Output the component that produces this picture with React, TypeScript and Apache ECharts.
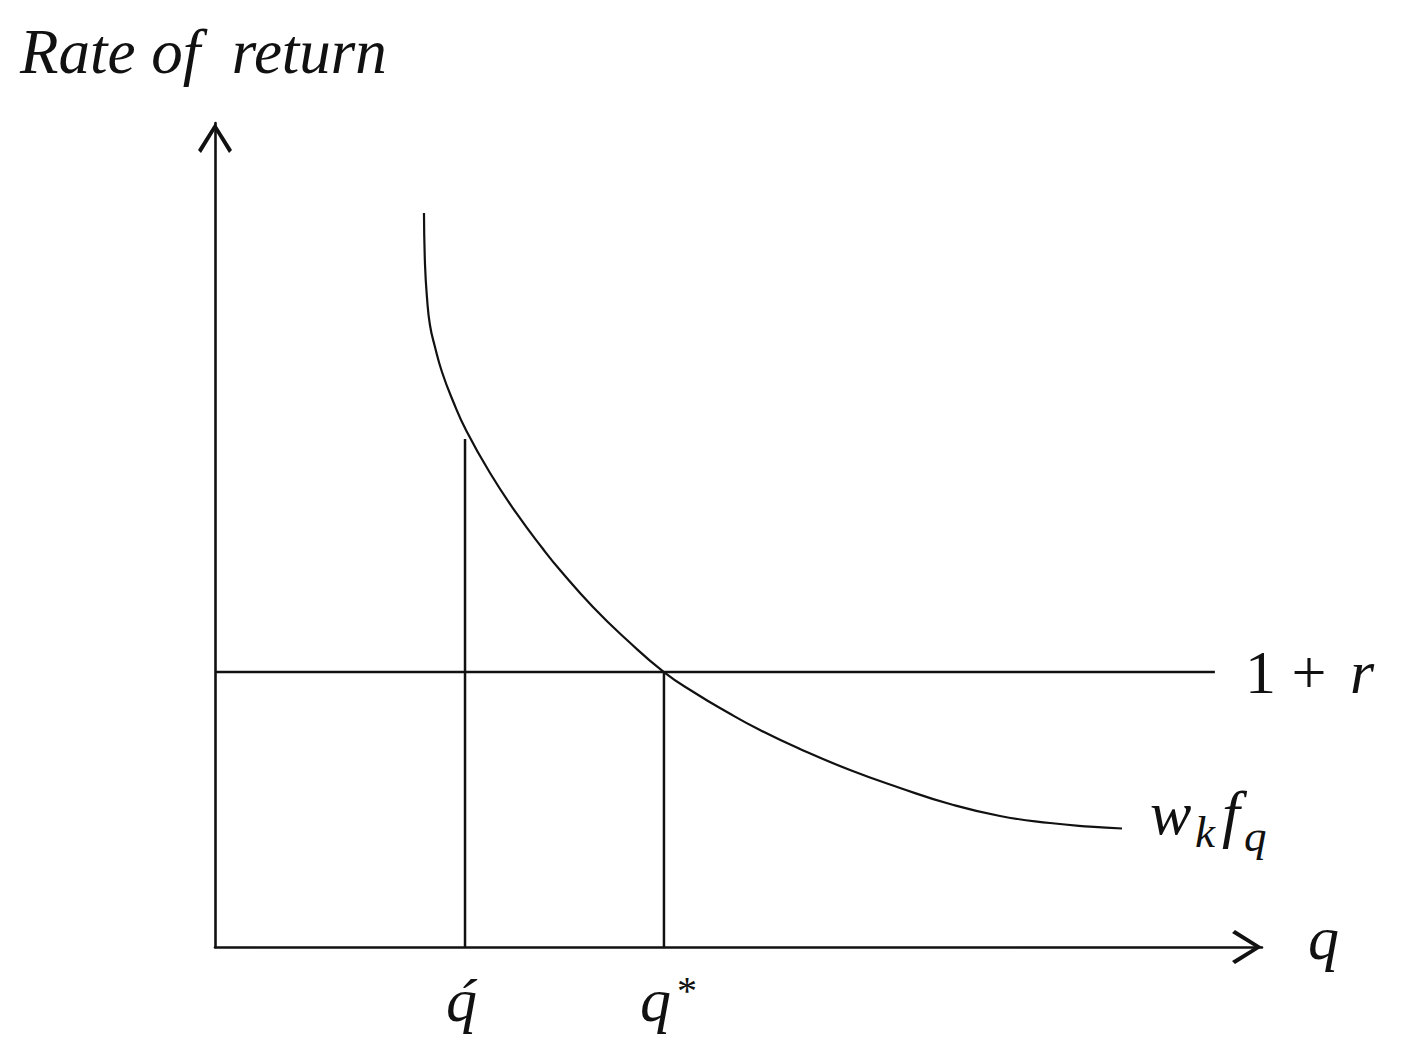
import React, { useEffect, useRef } from "react";
import * as echarts from "echarts";

// Curve w_k f_q (quantity q, rate of return)
const curveQ = [19.96, 20.06, 20.25, 20.53, 21.01, 21.68, 22.73, 23.97, 26.27, 28.84, 31.33, 32.95, 36.1, 39.35, 42.88, 45.85, 48.9, 52.05, 55.87, 60.65, 65.43, 70.2, 74.98, 79.75, 83.57, 86.63];
const curveRate = [89.08, 82.77, 78.76, 75.49, 72.82, 69.78, 66.26, 62.74, 57.52, 52.55, 48.3, 45.75, 41.26, 37.26, 33.37, 30.83, 28.52, 26.33, 24.03, 21.48, 19.3, 17.35, 15.9, 15.05, 14.61, 14.38];

// Horizontal line 1 + r
const rateLevel = 33.37;
const rateLineQ = [0, 95.5];

// Vertical markers
const qHat = 23.88;
const qHatTop = 61.65;
const qStar = 42.88;

// Labels
const yTitle = "Rate of  return";
const xTitle = "q";

const FONT = '"Liberation Serif", "DejaVu Serif", serif';
const CHEVRON = "path://M17,0 L34,27 L31,30 L17,7 L3,30 L0,27 Z";

export default function App() {
  const ref = useRef<HTMLDivElement>(null);
  useEffect(() => {
    if (!ref.current) return;
    const chart = echarts.init(ref.current, null, { renderer: "svg" });
    const black = "#111";
    const axisCommon = {
      type: "value" as const,
      min: 0,
      max: 100,
      splitLine: { show: false },
      axisTick: { show: false },
      axisLabel: { show: false },
      axisLine: {
        show: true,
        symbol: ["none", CHEVRON],
        symbolSize: [34, 30],
        symbolOffset: [0, -15],
        lineStyle: { color: black, width: 2.6 },
      },
    };
    const lineStyle = { color: black, width: 2.5 };
    const txt = (text: string, x: number, y: number, size: number, italic = true, align = "left") => ({
      type: "text",
      x,
      y,
      style: {
        text,
        fill: black,
        fontSize: size,
        fontFamily: FONT,
        fontStyle: italic ? "italic" : "normal",
        align,
        verticalAlign: "middle",
      },
    });
    chart.setOption({
      animation: false,
      backgroundColor: "#fff",
      grid: { left: 215, right: 148, top: 123, bottom: 115 },
      xAxis: axisCommon,
      yAxis: axisCommon,
      series: [
        {
          type: "line",
          data: curveQ.map((q, i) => [q, curveRate[i]]),
          smooth: 0.5,
          showSymbol: false,
          lineStyle: { color: black, width: 2.2 },
        },
        {
          type: "line",
          data: rateLineQ.map((q) => [q, rateLevel]),
          showSymbol: false,
          lineStyle,
        },
        {
          type: "line",
          data: [[qHat, 0], [qHat, qHatTop]],
          showSymbol: false,
          lineStyle,
        },
        {
          type: "line",
          data: [[qStar, 0], [qStar, rateLevel]],
          showSymbol: false,
          lineStyle,
        },
      ],
      graphic: [
        txt(yTitle, 20, 52, 63),
        txt(xTitle, 1308, 938, 62),
        txt("1 + ", 1245, 672, 62, false),
        txt("r", 1350, 672, 62),
        txt("w", 1150, 813, 62),
        txt("k", 1195, 832, 45),
        txt("f", 1222, 813, 64),
        txt("q", 1244, 836, 45),
        txt("q\u0301", 446, 1000, 62),
        txt("q", 640, 1000, 62),
        txt("*", 677, 990, 40, false),
      ],
    });
    return () => chart.dispose();
  }, []);
  return (
    <div
      ref={ref}
      style={{ position: "absolute", left: 0, top: 0, width: 1410, height: 1062, background: "#fff" }}
    />
  );
}
